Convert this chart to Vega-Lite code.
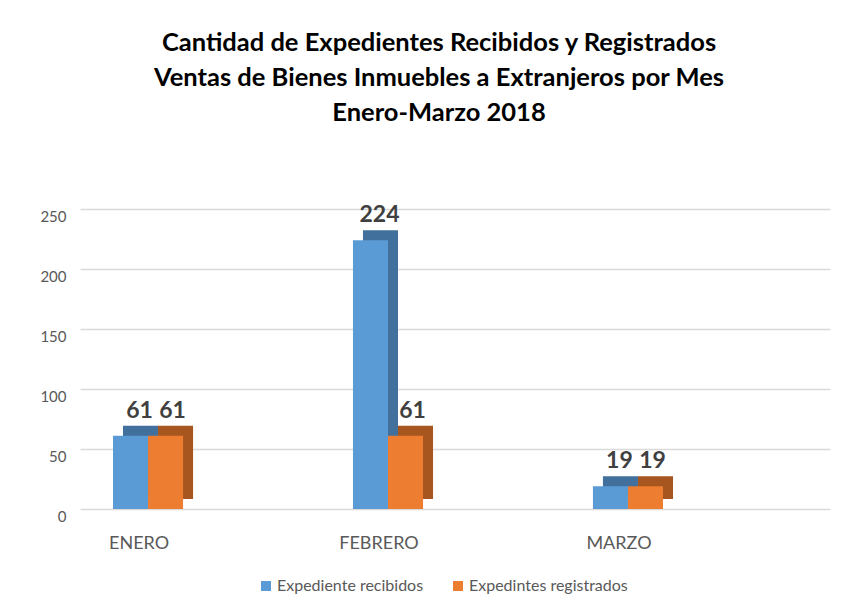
{
  "$schema": "https://vega.github.io/schema/vega-lite/v6.json",
  "autosize": {"type": "none"},
  "width": 750,
  "height": 300,
  "padding": {"left": 80, "top": 209, "right": 31, "bottom": 96},
  "background": "white",
  "title": {
    "text": ["Cantidad de Expedientes Recibidos y Registrados", "Ventas de Bienes Inmuebles a Extranjeros por Mes", "Enero-Marzo 2018"],
    "font": "Lato",
    "fontSize": 25.5,
    "fontWeight": "bold",
    "color": "#000000",
    "lineHeight": 35,
    "anchor": "middle",
    "dx": -16,
    "offset": 78
  },
  "config": {
    "view": {"stroke": null},
    "font": "Lato"
  },
  "data": {
    "values": [
      {"mes": "ENERO", "serie": "Expediente recibidos", "valor": 61},
      {"mes": "ENERO", "serie": "Expedintes registrados", "valor": 61},
      {"mes": "FEBRERO", "serie": "Expediente recibidos", "valor": 224},
      {"mes": "FEBRERO", "serie": "Expedintes registrados", "valor": 61},
      {"mes": "MARZO", "serie": "Expediente recibidos", "valor": 19},
      {"mes": "MARZO", "serie": "Expedintes registrados", "valor": 19}
    ]
  },
  "encoding": {
    "y": {
      "field": "valor", "type": "quantitative",
      "scale": {"domain": [0, 250], "nice": false},
      "axis": {"title": null, "values": [0, 50, 100, 150, 200, 250], "ticks": false, "domain": false, "labelPadding": 14, "labelOffset": 7, "labelFontSize": 15, "labelColor": "#595959", "labelFont": "Lato", "gridColor": "#d9d9d9", "gridWidth": 1.5}
    }
  },
  "layer": [
    {
      "transform": [{"filter": "datum.serie === 'Expediente recibidos'"}],
      "mark": {"type": "bar", "orient": "vertical", "color": "#42709d", "xOffset": 10, "x2Offset": 10, "yOffset": -10, "y2Offset": -10},
      "encoding": {
        "x": {"field": "mes", "type": "nominal", "sort": ["ENERO", "FEBRERO", "MARZO"], "bandPosition": 0,
          "scale": {"paddingInner": 0.708, "paddingOuter": 0.4167, "align": 0.165},
          "axis": {"title": null, "labelAngle": 0, "ticks": false, "domain": false, "grid": false, "labelOffset": -9, "labelPadding": 25, "labelFontSize": 18, "labelColor": "#595959", "labelFont": "Lato"}},
        "x2": {"field": "mes", "bandPosition": 0.5},
        "y2": {"datum": 0}
      }
    },
    {
      "transform": [{"filter": "datum.serie === 'Expedintes registrados'"}],
      "mark": {"type": "bar", "orient": "vertical", "color": "#a8561f", "xOffset": 10, "x2Offset": 10, "yOffset": -10, "y2Offset": -10},
      "encoding": {
        "x": {"field": "mes", "type": "nominal", "sort": ["ENERO", "FEBRERO", "MARZO"], "bandPosition": 0.5},
        "x2": {"field": "mes", "bandPosition": 1},
        "y2": {"datum": 0}
      }
    },
    {
      "transform": [{"filter": "datum.serie === 'Expediente recibidos'"}],
      "mark": {"type": "bar", "orient": "vertical"},
      "encoding": {
        "x": {"field": "mes", "type": "nominal", "sort": ["ENERO", "FEBRERO", "MARZO"], "bandPosition": 0},
        "x2": {"field": "mes", "bandPosition": 0.5},
        "y2": {"datum": 0},
        "color": {"field": "serie", "type": "nominal", "scale": {"domain": ["Expediente recibidos", "Expedintes registrados"], "range": ["#5b9bd5", "#ed7d31"]},
          "legend": {"title": null, "orient": "none", "direction": "horizontal", "legendX": 178, "legendY": 369, "symbolType": "square", "symbolSize": 100, "labelFontSize": 16, "labelColor": "#595959", "labelFont": "Lato", "labelLimit": 400, "columnPadding": 26, "labelOffset": 3}}
      }
    },
    {
      "transform": [{"filter": "datum.serie === 'Expedintes registrados'"}],
      "mark": {"type": "bar", "orient": "vertical"},
      "encoding": {
        "x": {"field": "mes", "type": "nominal", "sort": ["ENERO", "FEBRERO", "MARZO"], "bandPosition": 0.5},
        "x2": {"field": "mes", "bandPosition": 1},
        "y2": {"datum": 0},
        "color": {"field": "serie", "type": "nominal"}
      }
    },
    {
      "transform": [{"filter": "datum.serie === 'Expediente recibidos'"}],
      "mark": {"type": "text", "dy": -25, "dx": 9, "baseline": "middle", "fontSize": 23, "fontWeight": "bold", "color": "#404040", "font": "Lato"},
      "encoding": {
        "x": {"field": "mes", "type": "nominal", "sort": ["ENERO", "FEBRERO", "MARZO"], "bandPosition": 0.25},
        "text": {"field": "valor", "type": "quantitative"}
      }
    },
    {
      "transform": [{"filter": "datum.serie === 'Expedintes registrados'"}],
      "mark": {"type": "text", "dy": -25, "dx": 7, "baseline": "middle", "fontSize": 23, "fontWeight": "bold", "color": "#404040", "font": "Lato"},
      "encoding": {
        "x": {"field": "mes", "type": "nominal", "sort": ["ENERO", "FEBRERO", "MARZO"], "bandPosition": 0.75},
        "text": {"field": "valor", "type": "quantitative"}
      }
    }
  ]
}
